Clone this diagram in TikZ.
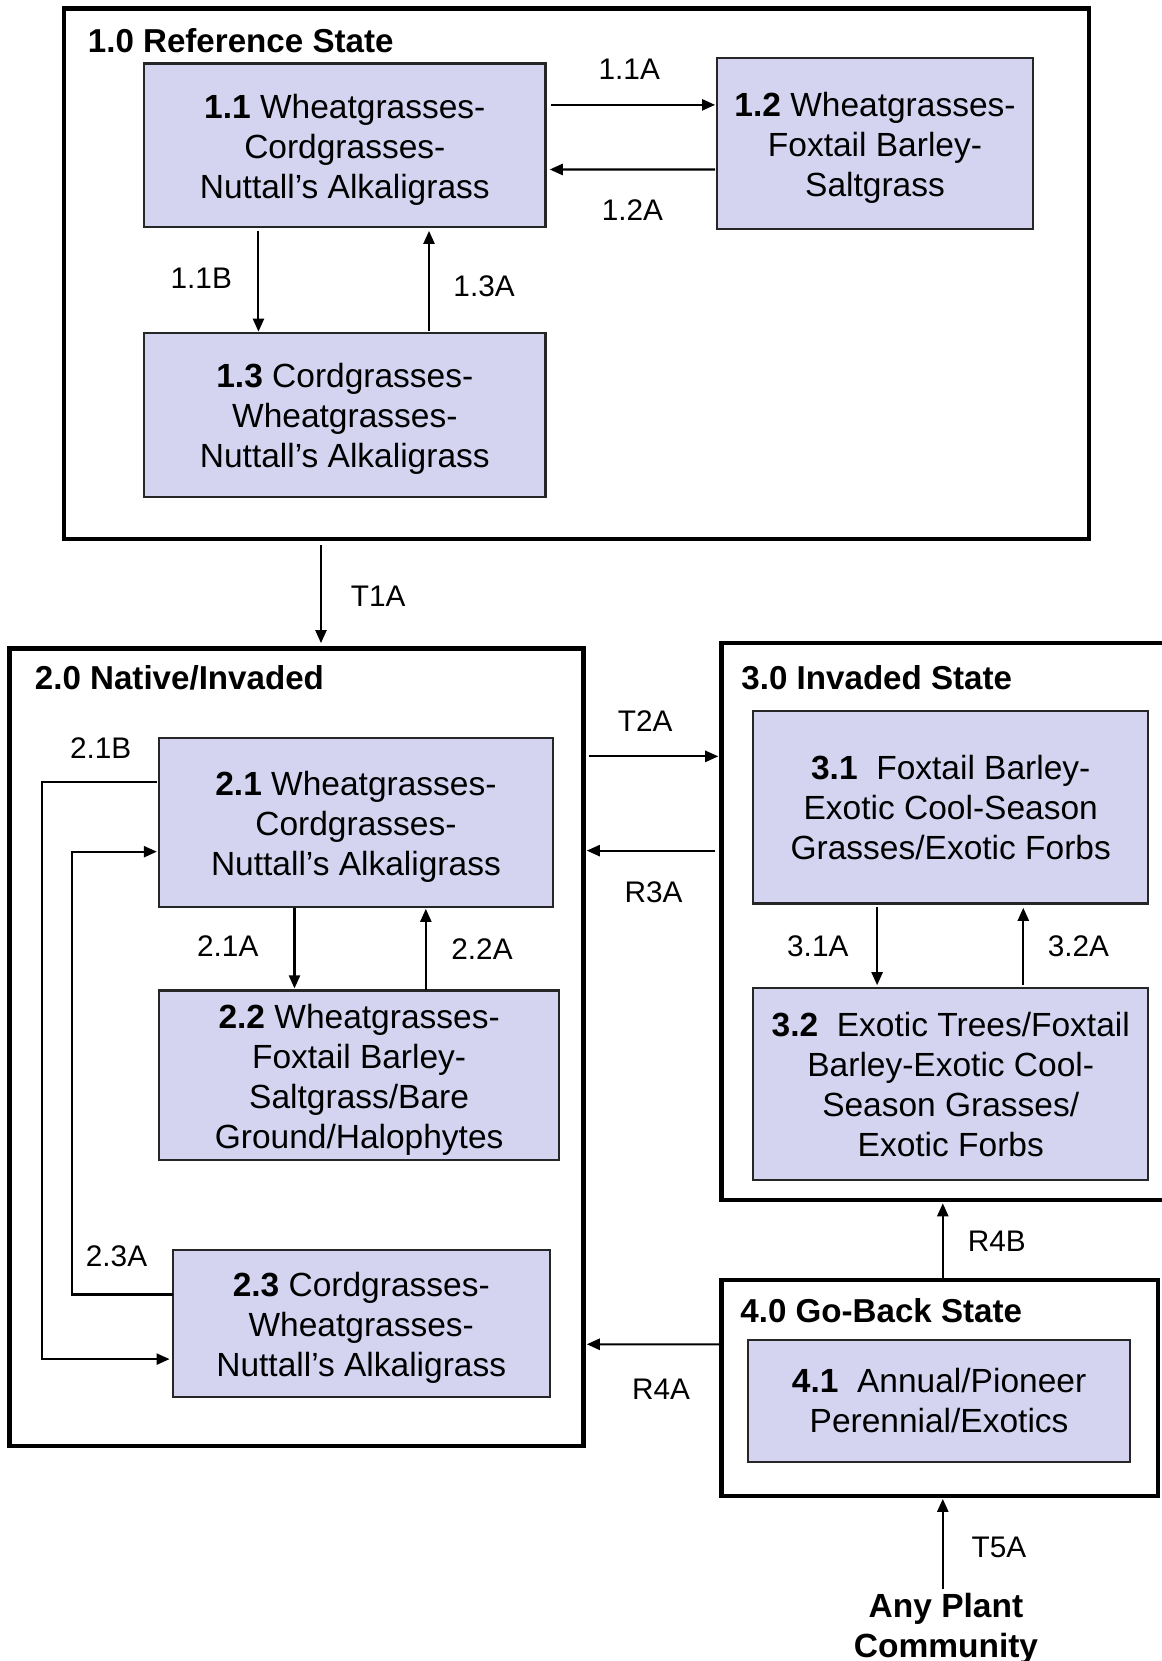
\documentclass[tikz,border=0pt]{standalone}
\usepackage{fontspec}
\setmainfont{Liberation Sans}
\usetikzlibrary{arrows.meta}
\usetikzlibrary{calc}

\definecolor{commfill}{RGB}{212,212,241}
\newcommand{\toplift}{\rule{0pt}{17.6pt}}

\tikzset{
  statebox/.style={draw, line width=2.3pt, inner sep=0pt, outer sep=0pt},
  comm/.style={draw=black!85, fill=commfill, line width=1.2pt, inner sep=0pt, outer sep=0pt,
    align=center, font=\fontsize{18}{21.5}\selectfont},
  sttitle/.style={anchor=west, inner sep=0pt, font=\fontsize{17.8}{21}\selectfont\bfseries},
  lbl/.style={inner sep=0pt, font=\fontsize{16}{19}\selectfont},
  arr/.style={-{Triangle[length=7pt, width=6pt]}},
}

\begin{document}
\begin{tikzpicture}[x=0.02cm, y=-0.02cm, line width=1.1pt]

  \useasboundingbox (0,0) rectangle (1096,1568);

  \begin{scope}

  \draw (544,258.5) node[statebox, minimum width=19.36cm, minimum height=10.02cm, name=st1] {};
  \draw (82,38) node[sttitle, name=t1] {1.0 Reference State};

  \draw (325.5,137) node[comm, minimum width=7.58cm, minimum height=3.08cm, name=b11]
    {\toplift\textbf{1.1} Wheatgrasses-\\Cordgrasses-\\Nuttall’s Alkaligrass};
  \draw (826,135.5) node[comm, minimum width=5.96cm, minimum height=3.22cm, name=b12]
    {\toplift\textbf{1.2} Wheatgrasses-\\Foxtail Barley-\\Saltgrass};
  \draw (325.5,391.5) node[comm, minimum width=7.58cm, minimum height=3.1cm, name=b13]
    {\toplift\textbf{1.3} Cordgrasses-\\Wheatgrasses-\\Nuttall’s Alkaligrass};

  \draw [arr] ($(b11.east)+(5,-38)$) -- ($(b12.west)+(-2,-36.5)$);
  \draw [arr] ($(b12.west)+(-2,24.5)$) -- ($(b11.east)+(4,23)$);
  \draw [arr] ($(b11.south)+(-81.5,4)$) -- ($(b13.north)+(-81.5,-1)$);
  \draw [arr] ($(b13.north)+(79.5,-2)$) -- ($(b11.south)+(79.5,4)$);

  \draw (594,65) node[lbl, name=l11a] {1.1A};
  \draw (597,198) node[lbl, name=l12a] {1.2A};
  \draw (190,263) node[lbl, name=l11b] {1.1B};
  \draw (457,270) node[lbl, name=l13a] {1.3A};

  \end{scope}

  \begin{scope}

  \draw (280,988.5) node[statebox, minimum width=10.84cm, minimum height=15.06cm, name=st2] {};
  \draw (32,640) node[sttitle, name=t2] {2.0 Native/Invaded};

  \draw (336,776.5) node[comm, minimum width=7.44cm, minimum height=3.18cm, name=b21]
    {\toplift\textbf{2.1} Wheatgrasses-\\Cordgrasses-\\Nuttall’s Alkaligrass};
  \draw (339,1015) node[comm, minimum width=7.56cm, minimum height=3.2cm, name=b22]
    {\toplift\textbf{2.2} Wheatgrasses-\\Foxtail Barley-\\Saltgrass/Bare\\Ground/Halophytes};
  \draw (341,1249.5) node[comm, minimum width=7.12cm, minimum height=2.78cm, name=b23]
    {\toplift\textbf{2.3} Cordgrasses-\\Wheatgrasses-\\Nuttall’s Alkaligrass};

  \draw [arr] ($(b21.south)+(-58,1)$) -- ($(b22.north)+(-61,-2)$);
  \draw [arr] ($(b22.north)+(63,0)$) -- ($(b21.south)+(66,2)$);
  \draw [arr] ($(b21.west)+(-2,-38.5)$) -- ++(-108,0) |- ($(b23.west)+(-3,33.5)$);
  \draw [arr] ($(b23.west)+(0,-27.5)$) -- ++(-95,0) |- ($(b21.west)+(-2,27.5)$);

  \draw (215,893) node[lbl, name=l21a] {2.1A};
  \draw (455,896) node[lbl, name=l22a] {2.2A};
  \draw (95,706) node[lbl, name=l21b] {2.1B};
  \draw (110,1186) node[lbl, name=l23a] {2.3A};

  \end{scope}

  \begin{scope}

  \draw (895.5,870) node[statebox, minimum width=8.58cm, minimum height=10.52cm, name=st3] {};
  \draw (699,640) node[sttitle, name=t3] {3.0 Invaded State};

  \draw (897.5,762) node[comm, minimum width=7.46cm, minimum height=3.64cm, name=b31]
    {\textbf{3.1}\ \ Foxtail Barley-\\Exotic Cool-Season\\Grasses/Exotic Forbs};
  \draw (897.5,1023.5) node[comm, minimum width=7.46cm, minimum height=3.62cm, name=b32]
    {\textbf{3.2}\ \ Exotic Trees/Foxtail\\Barley-Exotic Cool-\\Season Grasses/\\Exotic Forbs};

  \draw [arr] ($(b31.south)+(-69.5,3)$) -- ($(b32.north)+(-69.5,-3)$);
  \draw [arr] ($(b32.north)+(68.5,-3)$) -- ($(b31.south)+(68.5,4)$);

  \draw (772,893) node[lbl, name=l31a] {3.1A};
  \draw (1018,893) node[lbl, name=l32a] {3.2A};

  \end{scope}

  \begin{scope}

  \draw (887,1310) node[statebox, minimum width=8.24cm, minimum height=4.08cm, name=st4] {};
  \draw (698,1237) node[sttitle, name=t4] {4.0 Go-Back State};

  \draw (886.5,1322.5) node[comm, minimum width=7.22cm, minimum height=2.3cm, name=b41]
    {\textbf{4.1}\ \ Annual/Pioneer\\Perennial/Exotics};

  \draw (893,1503) node[anchor=north, align=center, inner sep=0pt,
    font=\fontsize{18}{21.5}\selectfont\bfseries, name=apc] {Any Plant\\Community};

  \end{scope}

  \draw [arr] ($(st1.south)+(-241,6)$) -- ($(st2.north)+(23,-5)$);
  \draw [arr] ($(st2.east)+(5,-274.5)$) -- ($(st3.west)+(-3,-156)$);
  \draw [arr] ($(st3.west)+(-6,-67)$) -- ($(st2.east)+(3,-185.5)$);
  \draw [arr] ($(st4.north)+(3,-2)$) -- ($(st3.south)+(-5.5,3)$);
  \draw [arr] ($(st4.west)+(-2,-41)$) -- ($(st2.east)+(3,280.5)$);
  \draw [arr] ($(apc.north)+(-3,-3)$) -- ($(st4.south)+(3,3)$);

  \draw (357,563) node[lbl, name=lt1a] {T1A};
  \draw (609,681) node[lbl, name=lt2a] {T2A};
  \draw (617,842) node[lbl, name=lr3a] {R3A};
  \draw (941,1172) node[lbl, name=lr4b] {R4B};
  \draw (624,1311) node[lbl, name=lr4a] {R4A};
  \draw (943,1461) node[lbl, name=lt5a] {T5A};

\end{tikzpicture}
\end{document}
